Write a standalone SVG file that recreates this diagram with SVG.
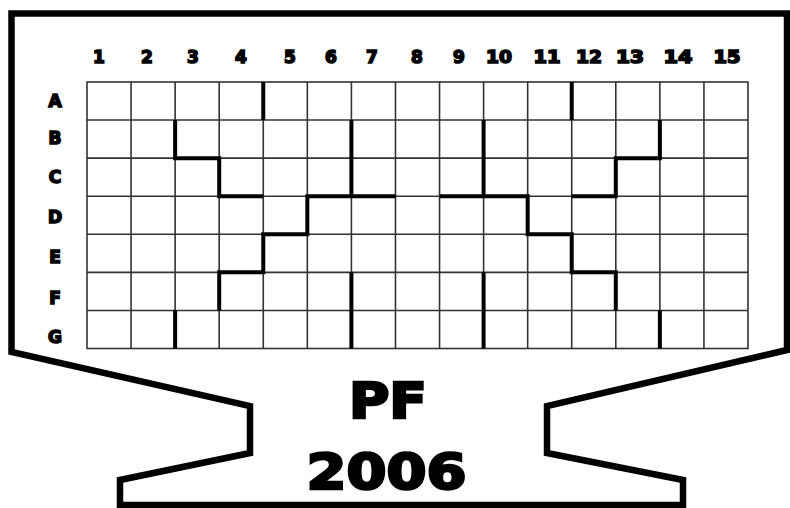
<svg xmlns="http://www.w3.org/2000/svg" width="790" height="508" viewBox="0 0 790 508">
<style>
.lbl{font-family:"DejaVu Sans","Liberation Sans",sans-serif;font-weight:bold;font-size:17px;fill:#000;stroke:#000;stroke-width:1.6;text-anchor:middle}
.title{font-family:"DejaVu Sans","Liberation Sans",sans-serif;font-weight:bold;font-size:49px;fill:#000;stroke:#000;stroke-width:2.6;text-anchor:middle}
.grid{stroke:#333;stroke-width:1.6;fill:none}
.wall{stroke:#000;stroke-width:4;fill:none;stroke-linecap:butt;stroke-linejoin:miter}
</style>
<rect width="790" height="508" fill="#fff"/>
<g id="frame">
<polygon points="11.5,13.5 787,13.5 787,350 547,406 547,453 683,480 683,505 120,505 120,480 250,453 250,406 11.5,352" fill="none" stroke="#000" stroke-width="6.5" stroke-linejoin="miter"/>
</g>
<g id="col-labels">
<text class="lbl" x="99" y="63">1</text>
<text class="lbl" x="147" y="63">2</text>
<text class="lbl" x="193" y="63">3</text>
<text class="lbl" x="241" y="63">4</text>
<text class="lbl" x="290" y="63">5</text>
<text class="lbl" x="331" y="63">6</text>
<text class="lbl" x="372" y="63">7</text>
<text class="lbl" x="417" y="63">8</text>
<text class="lbl" x="459" y="63">9</text>
<text class="lbl" x="499" y="63" textLength="26" lengthAdjust="spacingAndGlyphs">10</text>
<text class="lbl" x="547" y="63" textLength="27" lengthAdjust="spacingAndGlyphs">11</text>
<text class="lbl" x="589" y="63" textLength="26" lengthAdjust="spacingAndGlyphs">12</text>
<text class="lbl" x="630" y="63" textLength="28" lengthAdjust="spacingAndGlyphs">13</text>
<text class="lbl" x="678" y="63" textLength="29" lengthAdjust="spacingAndGlyphs">14</text>
<text class="lbl" x="727" y="63" textLength="27" lengthAdjust="spacingAndGlyphs">15</text>
</g>
<g id="row-labels">
<text class="lbl" x="55" y="107">A</text>
<text class="lbl" x="55" y="144">B</text>
<text class="lbl" x="55" y="183">C</text>
<text class="lbl" x="55" y="223">D</text>
<text class="lbl" x="55" y="263">E</text>
<text class="lbl" x="55" y="304">F</text>
<text class="lbl" x="55" y="343">G</text>
</g>
<g id="grid" class="grid">
<rect x="87" y="82" width="661" height="266.5"/>
<path d="M131.07,82V348.5M175.13,82V348.5M219.2,82V348.5M263.27,82V348.5M307.33,82V348.5M351.4,82V348.5M395.47,82V348.5M439.53,82V348.5M483.6,82V348.5M527.67,82V348.5M571.73,82V348.5M615.8,82V348.5M659.87,82V348.5M703.93,82V348.5"/>
<path d="M87,120.07H748M87,158.14H748M87,196.21H748M87,234.29H748M87,272.36H748M87,310.43H748"/>
</g>
<g id="walls" class="wall">
<path d="M263.27,82V120.07"/>
<path d="M175.13,120.07V158.14H219.2V196.21H263.27"/>
<path d="M351.4,120.07V196.21"/>
<path d="M395.47,196.21H307.33V234.29H263.27V272.36H219.2V310.43"/>
<path d="M175.13,310.43V348.5"/>
<path d="M351.4,272.36V348.5"/>
<path d="M571.73,82V120.07"/>
<path d="M659.87,120.07V158.14H615.8V196.21H571.73"/>
<path d="M483.6,120.07V196.21"/>
<path d="M439.53,196.21H527.67V234.29H571.73V272.36H615.8V310.43"/>
<path d="M659.87,310.43V348.5"/>
<path d="M483.6,272.36V348.5"/>
</g>
<g id="title">
<text class="title" x="388" y="418" textLength="78" lengthAdjust="spacingAndGlyphs">PF</text>
<text class="title" x="386.5" y="489" textLength="160" lengthAdjust="spacingAndGlyphs">2006</text>
</g>
</svg>
